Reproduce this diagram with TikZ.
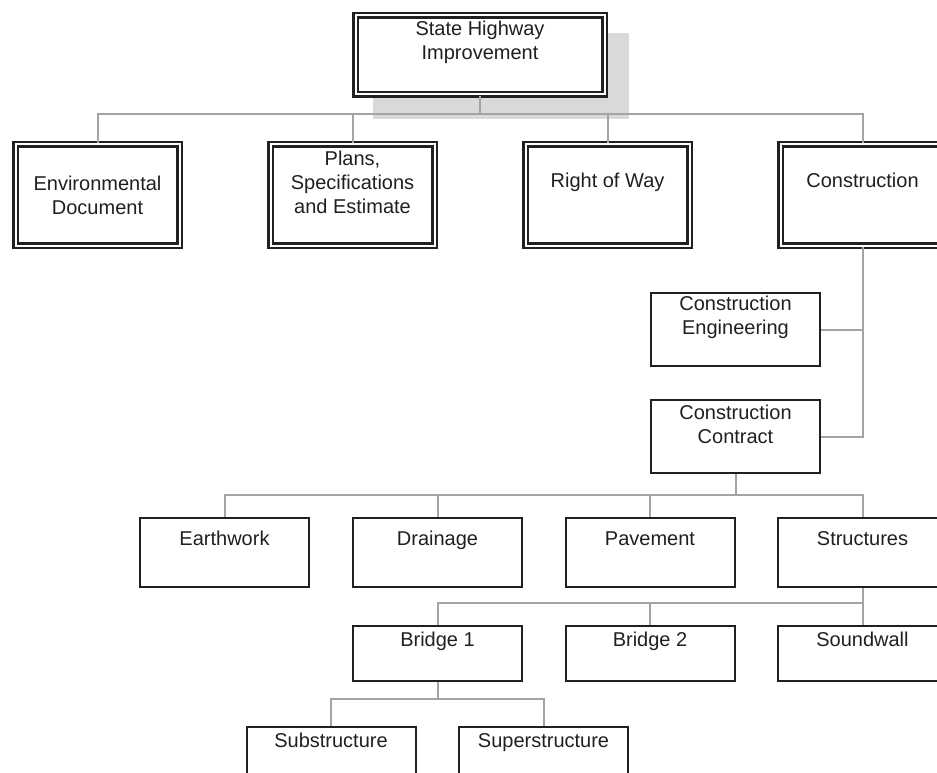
\documentclass[tikz,border=0pt]{standalone}
\usepackage{fontspec}
\setmainfont{Liberation Sans}
\usetikzlibrary{backgrounds}
\definecolor{hwyink}{HTML}{231F20}
\definecolor{hwygrey}{HTML}{A4A4A6}
\definecolor{hwyshade}{HTML}{D9D9DB}
\newcommand{\hwyfont}{\fontsize{20}{24}\selectfont}

\begin{document}
\begin{tikzpicture}[x=1pt, y=-1pt,
    dbox/.style={draw=hwyink, fill=white, double=white, double distance=2pt,
      line width=2.5pt, inner sep=0pt, minimum width=164pt, minimum height=101pt},
    sbox/.style={draw=hwyink, fill=white, line width=2pt, inner sep=0pt,
      minimum width=169pt},
    tag/.style={font=\hwyfont, text=hwyink, align=center, inner sep=0pt},
    oneline/.style={tag, text height=14.5pt, text depth=4.2pt},
    link/.style={draw=hwygrey, line width=2pt}]
  \useasboundingbox (0,0) rectangle (937,773);

  % project
  \node[dbox, minimum width=249pt, minimum height=79pt] (shi) at (480,55) {};
  \node[tag] (shi-t) at ([yshift=12.5pt]shi.center) {State Highway\\Improvement};
  \begin{scope}[on background layer]
    \fill[hwyshade] (373,33) rectangle (629,119);
  \end{scope}

  % phases
  \node[dbox] (env) at (97.5,195) {};
  \node[dbox] (pse) at (352.5,195) {};
  \node[dbox] (row) at (607.5,195) {};
  \node[dbox] (con) at (862.5,195) {};
  \node[tag] (env-t) at (env.center) {Environmental\\Document};
  \node[tag] (pse-t) at ([yshift=12.5pt]pse.center) {Plans,\\Specifications\\and Estimate};
  \node[oneline] (row-t) at ([yshift=12.5pt]row.center) {Right of Way};
  \node[oneline] (con-t) at ([yshift=12.5pt]con.center) {Construction};

  % construction split
  \node[sbox, minimum height=73pt] (ceng) at (735.5,329.5) {};
  \node[sbox, minimum height=73pt] (ccon) at (735.5,436.5) {};
  \node[tag] (ceng-t) at ([yshift=12.5pt]ceng.center) {Construction\\Engineering};
  \node[tag] (ccon-t) at ([yshift=12.5pt]ccon.center) {Construction\\Contract};

  % contract items
  \node[sbox, minimum height=69pt] (ew) at (224.5,552.5) {};
  \node[sbox, minimum height=69pt] (dr) at (437.5,552.5) {};
  \node[sbox, minimum height=69pt] (pv) at (650,552.5) {};
  \node[sbox, minimum height=69pt] (st) at (862.5,552.5) {};
  \node[oneline] (ew-t) at ([yshift=12.5pt]ew.center) {Earthwork};
  \node[oneline] (dr-t) at ([yshift=12.5pt]dr.center) {Drainage};
  \node[oneline] (pv-t) at ([yshift=12.5pt]pv.center) {Pavement};
  \node[oneline] (st-t) at ([yshift=12.5pt]st.center) {Structures};

  % structures
  \node[sbox, minimum height=55pt] (b1) at (437.5,653.5) {};
  \node[sbox, minimum height=55pt] (b2) at (650,653.5) {};
  \node[sbox, minimum height=55pt] (sw) at (862.5,653.5) {};
  \node[oneline] (b1-t) at ([yshift=12.5pt]b1.center) {Bridge 1};
  \node[oneline] (b2-t) at ([yshift=12.5pt]b2.center) {Bridge 2};
  \node[oneline] (sw-t) at ([yshift=12.5pt]sw.center) {Soundwall};

  % bridge 1
  \node[sbox, minimum height=55pt] (sub) at (331,754.5) {};
  \node[sbox, minimum height=55pt] (sup) at (543.5,754.5) {};
  \node[oneline] (sub-t) at ([yshift=12.5pt]sub.center) {Substructure};
  \node[oneline] (sup-t) at ([yshift=12.5pt]sup.center) {Superstructure};

  % connectors
  \coordinate (j1) at (480,114);
  \coordinate (j2) at (735.5,495);
  \coordinate (j3) at (862.5,603);
  \coordinate (j4) at (437.5,699);
  \draw[link] (shi) -- (j1);
  \foreach \n in {env,pse,row,con} \draw[link] (j1) -| (\n);
  \draw[link] (con) |- (ceng);
  \draw[link] (con) |- (ccon);
  \draw[link] (ccon) -- (j2);
  \foreach \n in {ew,dr,pv,st} \draw[link] (j2) -| (\n);
  \draw[link] (st) -- (j3);
  \foreach \n in {b1,b2,sw} \draw[link] (j3) -| (\n);
  \draw[link] (b1) -- (j4);
  \foreach \n in {sub,sup} \draw[link] (j4) -| (\n);
\end{tikzpicture}
\end{document}
